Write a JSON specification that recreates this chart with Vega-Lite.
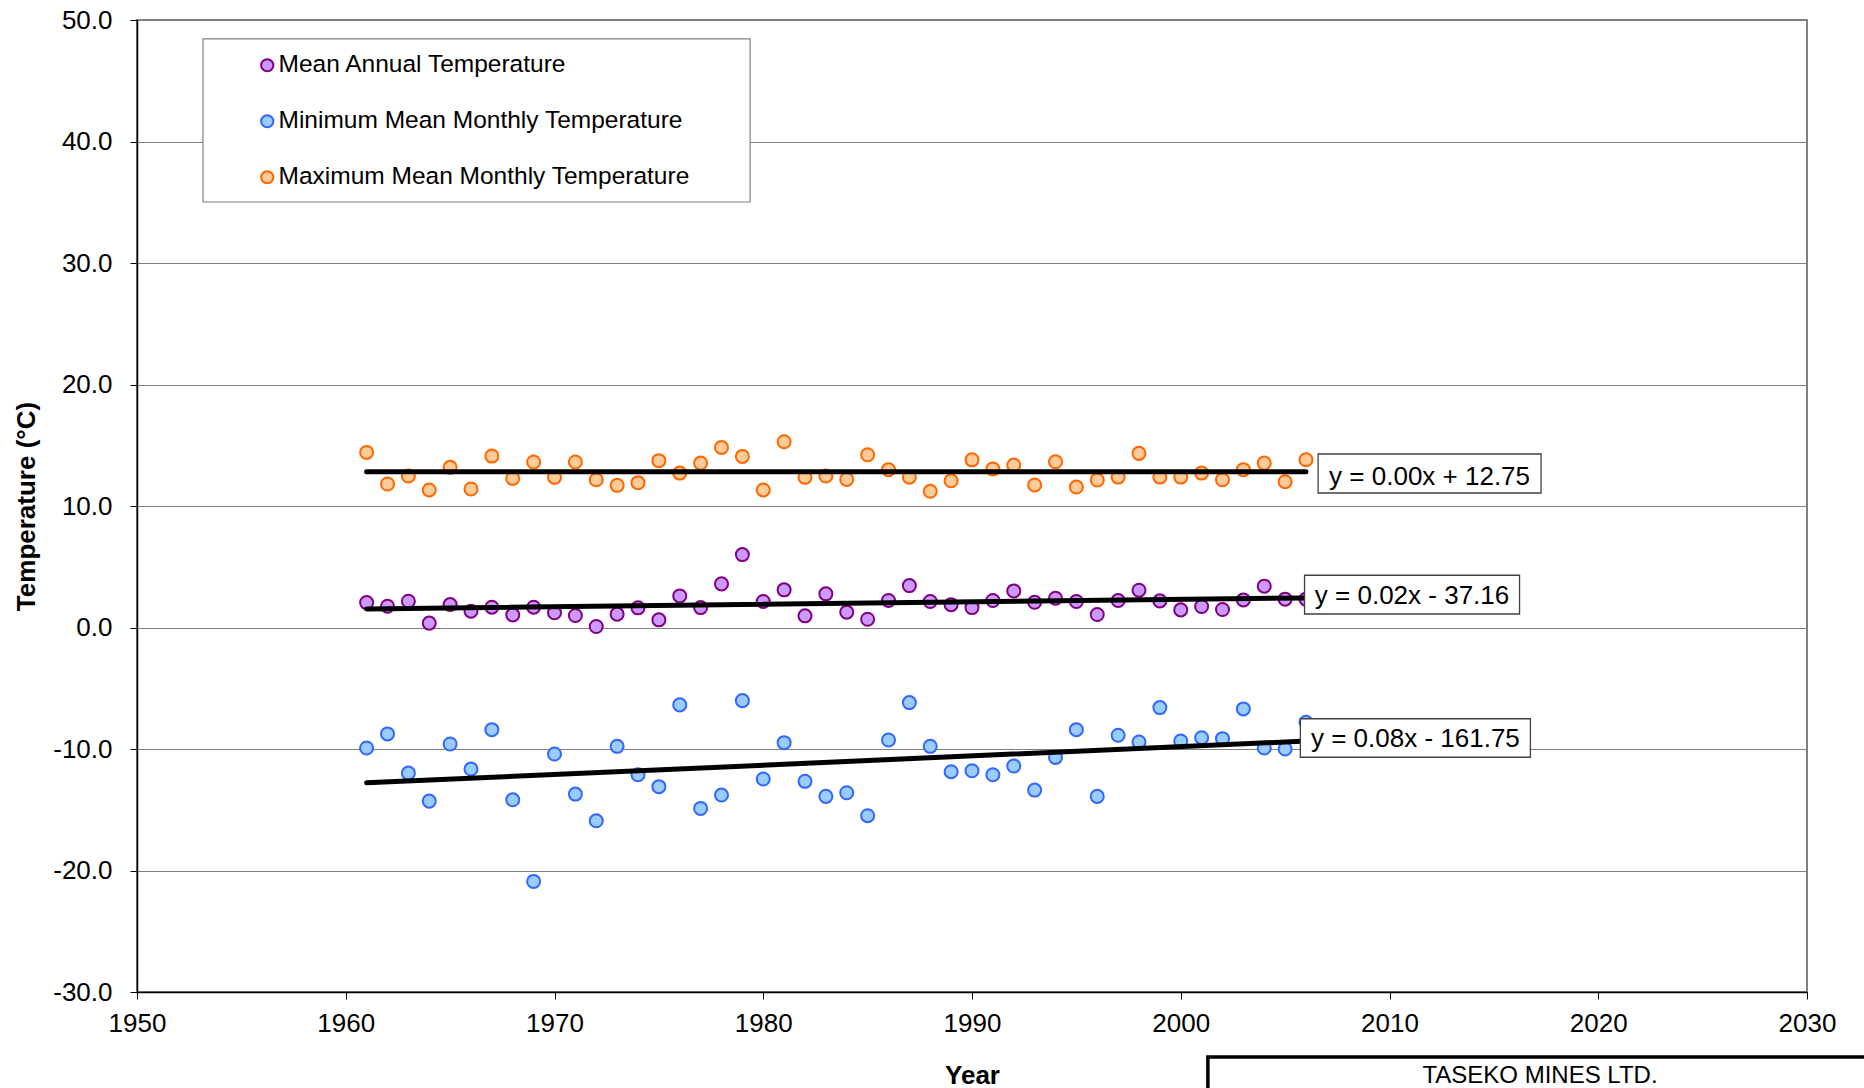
{
  "$schema": "https://vega.github.io/schema/vega-lite/v6.json",
  "width": 1670,
  "height": 972,
  "autosize": {"type": "none"},
  "padding": {"left": 137, "top": 20, "right": 57, "bottom": 96},
  "background": "white",
  "config": {
    "font": "Liberation Sans",
    "view": {"stroke": "#808080", "strokeWidth": 2},
    "axis": {
      "labelFont": "Liberation Sans",
      "titleFont": "Liberation Sans",
      "domainColor": "black",
      "domainWidth": 1.5,
      "tickColor": "black",
      "tickWidth": 1,
      "tickSize": 7,
      "labelColor": "black",
      "titleColor": "black",
      "labelFontSize": 26,
      "titleFontSize": 26,
      "titleFontWeight": "bold"
    },
    "axisX": {"grid": false, "labelPadding": 11, "titlePadding": 26, "labelFlush": false, "labelOverlap": false},
    "axisY": {"grid": true, "gridColor": "#808080", "gridWidth": 1, "labelPadding": 18, "titlePadding": 13, "labelOverlap": false}
  },
  "data": {
    "values": [
      {"year": 1961, "series": "Mean Annual Temperature", "value": 2.05},
      {"year": 1962, "series": "Mean Annual Temperature", "value": 1.75},
      {"year": 1963, "series": "Mean Annual Temperature", "value": 2.16},
      {"year": 1964, "series": "Mean Annual Temperature", "value": 0.36},
      {"year": 1965, "series": "Mean Annual Temperature", "value": 1.89},
      {"year": 1966, "series": "Mean Annual Temperature", "value": 1.34},
      {"year": 1967, "series": "Mean Annual Temperature", "value": 1.67},
      {"year": 1968, "series": "Mean Annual Temperature", "value": 1.04},
      {"year": 1969, "series": "Mean Annual Temperature", "value": 1.67},
      {"year": 1970, "series": "Mean Annual Temperature", "value": 1.21},
      {"year": 1971, "series": "Mean Annual Temperature", "value": 0.99},
      {"year": 1972, "series": "Mean Annual Temperature", "value": 0.08},
      {"year": 1973, "series": "Mean Annual Temperature", "value": 1.10},
      {"year": 1974, "series": "Mean Annual Temperature", "value": 1.62},
      {"year": 1975, "series": "Mean Annual Temperature", "value": 0.63},
      {"year": 1976, "series": "Mean Annual Temperature", "value": 2.60},
      {"year": 1977, "series": "Mean Annual Temperature", "value": 1.64},
      {"year": 1978, "series": "Mean Annual Temperature", "value": 3.59},
      {"year": 1979, "series": "Mean Annual Temperature", "value": 6.00},
      {"year": 1980, "series": "Mean Annual Temperature", "value": 2.14},
      {"year": 1981, "series": "Mean Annual Temperature", "value": 3.10},
      {"year": 1982, "series": "Mean Annual Temperature", "value": 0.96},
      {"year": 1983, "series": "Mean Annual Temperature", "value": 2.77},
      {"year": 1984, "series": "Mean Annual Temperature", "value": 1.26},
      {"year": 1985, "series": "Mean Annual Temperature", "value": 0.68},
      {"year": 1986, "series": "Mean Annual Temperature", "value": 2.22},
      {"year": 1987, "series": "Mean Annual Temperature", "value": 3.45},
      {"year": 1988, "series": "Mean Annual Temperature", "value": 2.14},
      {"year": 1989, "series": "Mean Annual Temperature", "value": 1.88},
      {"year": 1990, "series": "Mean Annual Temperature", "value": 1.64},
      {"year": 1991, "series": "Mean Annual Temperature", "value": 2.22},
      {"year": 1992, "series": "Mean Annual Temperature", "value": 3.01},
      {"year": 1993, "series": "Mean Annual Temperature", "value": 2.08},
      {"year": 1994, "series": "Mean Annual Temperature", "value": 2.41},
      {"year": 1995, "series": "Mean Annual Temperature", "value": 2.14},
      {"year": 1996, "series": "Mean Annual Temperature", "value": 1.07},
      {"year": 1997, "series": "Mean Annual Temperature", "value": 2.22},
      {"year": 1998, "series": "Mean Annual Temperature", "value": 3.07},
      {"year": 1999, "series": "Mean Annual Temperature", "value": 2.19},
      {"year": 2000, "series": "Mean Annual Temperature", "value": 1.45},
      {"year": 2001, "series": "Mean Annual Temperature", "value": 1.73},
      {"year": 2002, "series": "Mean Annual Temperature", "value": 1.48},
      {"year": 2003, "series": "Mean Annual Temperature", "value": 2.27},
      {"year": 2004, "series": "Mean Annual Temperature", "value": 3.40},
      {"year": 2005, "series": "Mean Annual Temperature", "value": 2.33},
      {"year": 2006, "series": "Mean Annual Temperature", "value": 2.33},
      {"year": 1961, "series": "Minimum Mean Monthly Temperature", "value": -9.92},
      {"year": 1962, "series": "Minimum Mean Monthly Temperature", "value": -8.76},
      {"year": 1963, "series": "Minimum Mean Monthly Temperature", "value": -11.98},
      {"year": 1964, "series": "Minimum Mean Monthly Temperature", "value": -14.29},
      {"year": 1965, "series": "Minimum Mean Monthly Temperature", "value": -9.59},
      {"year": 1966, "series": "Minimum Mean Monthly Temperature", "value": -11.65},
      {"year": 1967, "series": "Minimum Mean Monthly Temperature", "value": -8.41},
      {"year": 1968, "series": "Minimum Mean Monthly Temperature", "value": -14.18},
      {"year": 1969, "series": "Minimum Mean Monthly Temperature", "value": -20.9},
      {"year": 1970, "series": "Minimum Mean Monthly Temperature", "value": -10.41},
      {"year": 1971, "series": "Minimum Mean Monthly Temperature", "value": -13.71},
      {"year": 1972, "series": "Minimum Mean Monthly Temperature", "value": -15.91},
      {"year": 1973, "series": "Minimum Mean Monthly Temperature", "value": -9.78},
      {"year": 1974, "series": "Minimum Mean Monthly Temperature", "value": -12.12},
      {"year": 1975, "series": "Minimum Mean Monthly Temperature", "value": -13.10},
      {"year": 1976, "series": "Minimum Mean Monthly Temperature", "value": -6.37},
      {"year": 1977, "series": "Minimum Mean Monthly Temperature", "value": -14.89},
      {"year": 1978, "series": "Minimum Mean Monthly Temperature", "value": -13.79},
      {"year": 1979, "series": "Minimum Mean Monthly Temperature", "value": -6.02},
      {"year": 1980, "series": "Minimum Mean Monthly Temperature", "value": -12.47},
      {"year": 1981, "series": "Minimum Mean Monthly Temperature", "value": -9.48},
      {"year": 1982, "series": "Minimum Mean Monthly Temperature", "value": -12.66},
      {"year": 1983, "series": "Minimum Mean Monthly Temperature", "value": -13.90},
      {"year": 1984, "series": "Minimum Mean Monthly Temperature", "value": -13.60},
      {"year": 1985, "series": "Minimum Mean Monthly Temperature", "value": -15.49},
      {"year": 1986, "series": "Minimum Mean Monthly Temperature", "value": -9.26},
      {"year": 1987, "series": "Minimum Mean Monthly Temperature", "value": -6.18},
      {"year": 1988, "series": "Minimum Mean Monthly Temperature", "value": -9.78},
      {"year": 1989, "series": "Minimum Mean Monthly Temperature", "value": -11.87},
      {"year": 1990, "series": "Minimum Mean Monthly Temperature", "value": -11.79},
      {"year": 1991, "series": "Minimum Mean Monthly Temperature", "value": -12.12},
      {"year": 1992, "series": "Minimum Mean Monthly Temperature", "value": -11.40},
      {"year": 1993, "series": "Minimum Mean Monthly Temperature", "value": -13.38},
      {"year": 1994, "series": "Minimum Mean Monthly Temperature", "value": -10.69},
      {"year": 1995, "series": "Minimum Mean Monthly Temperature", "value": -8.41},
      {"year": 1996, "series": "Minimum Mean Monthly Temperature", "value": -13.90},
      {"year": 1997, "series": "Minimum Mean Monthly Temperature", "value": -8.87},
      {"year": 1998, "series": "Minimum Mean Monthly Temperature", "value": -9.42},
      {"year": 1999, "series": "Minimum Mean Monthly Temperature", "value": -6.59},
      {"year": 2000, "series": "Minimum Mean Monthly Temperature", "value": -9.34},
      {"year": 2001, "series": "Minimum Mean Monthly Temperature", "value": -9.07},
      {"year": 2002, "series": "Minimum Mean Monthly Temperature", "value": -9.15},
      {"year": 2003, "series": "Minimum Mean Monthly Temperature", "value": -6.70},
      {"year": 2004, "series": "Minimum Mean Monthly Temperature", "value": -9.92},
      {"year": 2005, "series": "Minimum Mean Monthly Temperature", "value": -10.00},
      {"year": 2006, "series": "Minimum Mean Monthly Temperature", "value": -7.80},
      {"year": 1961, "series": "Maximum Mean Monthly Temperature", "value": 14.41},
      {"year": 1962, "series": "Maximum Mean Monthly Temperature", "value": 11.81},
      {"year": 1963, "series": "Maximum Mean Monthly Temperature", "value": 12.47},
      {"year": 1964, "series": "Maximum Mean Monthly Temperature", "value": 11.32},
      {"year": 1965, "series": "Maximum Mean Monthly Temperature", "value": 13.18},
      {"year": 1966, "series": "Maximum Mean Monthly Temperature", "value": 11.40},
      {"year": 1967, "series": "Maximum Mean Monthly Temperature", "value": 14.11},
      {"year": 1968, "series": "Maximum Mean Monthly Temperature", "value": 12.27},
      {"year": 1969, "series": "Maximum Mean Monthly Temperature", "value": 13.62},
      {"year": 1970, "series": "Maximum Mean Monthly Temperature", "value": 12.36},
      {"year": 1971, "series": "Maximum Mean Monthly Temperature", "value": 13.62},
      {"year": 1972, "series": "Maximum Mean Monthly Temperature", "value": 12.16},
      {"year": 1973, "series": "Maximum Mean Monthly Temperature", "value": 11.70},
      {"year": 1974, "series": "Maximum Mean Monthly Temperature", "value": 11.92},
      {"year": 1975, "series": "Maximum Mean Monthly Temperature", "value": 13.73},
      {"year": 1976, "series": "Maximum Mean Monthly Temperature", "value": 12.71},
      {"year": 1977, "series": "Maximum Mean Monthly Temperature", "value": 13.53},
      {"year": 1978, "series": "Maximum Mean Monthly Temperature", "value": 14.82},
      {"year": 1979, "series": "Maximum Mean Monthly Temperature", "value": 14.08},
      {"year": 1980, "series": "Maximum Mean Monthly Temperature", "value": 11.32},
      {"year": 1981, "series": "Maximum Mean Monthly Temperature", "value": 15.29},
      {"year": 1982, "series": "Maximum Mean Monthly Temperature", "value": 12.36},
      {"year": 1983, "series": "Maximum Mean Monthly Temperature", "value": 12.47},
      {"year": 1984, "series": "Maximum Mean Monthly Temperature", "value": 12.19},
      {"year": 1985, "series": "Maximum Mean Monthly Temperature", "value": 14.22},
      {"year": 1986, "series": "Maximum Mean Monthly Temperature", "value": 12.99},
      {"year": 1987, "series": "Maximum Mean Monthly Temperature", "value": 12.37},
      {"year": 1988, "series": "Maximum Mean Monthly Temperature", "value": 11.21},
      {"year": 1989, "series": "Maximum Mean Monthly Temperature", "value": 12.08},
      {"year": 1990, "series": "Maximum Mean Monthly Temperature", "value": 13.80},
      {"year": 1991, "series": "Maximum Mean Monthly Temperature", "value": 13.05},
      {"year": 1992, "series": "Maximum Mean Monthly Temperature", "value": 13.37},
      {"year": 1993, "series": "Maximum Mean Monthly Temperature", "value": 11.73},
      {"year": 1994, "series": "Maximum Mean Monthly Temperature", "value": 13.64},
      {"year": 1995, "series": "Maximum Mean Monthly Temperature", "value": 11.56},
      {"year": 1996, "series": "Maximum Mean Monthly Temperature", "value": 12.14},
      {"year": 1997, "series": "Maximum Mean Monthly Temperature", "value": 12.38},
      {"year": 1998, "series": "Maximum Mean Monthly Temperature", "value": 14.33},
      {"year": 1999, "series": "Maximum Mean Monthly Temperature", "value": 12.38},
      {"year": 2000, "series": "Maximum Mean Monthly Temperature", "value": 12.38},
      {"year": 2001, "series": "Maximum Mean Monthly Temperature", "value": 12.71},
      {"year": 2002, "series": "Maximum Mean Monthly Temperature", "value": 12.16},
      {"year": 2003, "series": "Maximum Mean Monthly Temperature", "value": 12.99},
      {"year": 2004, "series": "Maximum Mean Monthly Temperature", "value": 13.53},
      {"year": 2005, "series": "Maximum Mean Monthly Temperature", "value": 12.00},
      {"year": 2006, "series": "Maximum Mean Monthly Temperature", "value": 13.81}
    ]
  },
  "layer": [
    {
      "data": {"values": [{}]},
      "mark": {"type": "rect", "fill": "white", "stroke": "#808080", "strokeWidth": 1.2},
      "encoding": {
        "x": {"datum": 1953.16, "type": "quantitative", "title": "Year", "scale": {"domain": [1950, 2030]}},
        "x2": {"datum": 1979.37},
        "y": {"datum": 48.44, "type": "quantitative", "title": "Temperature (°C)", "scale": {"domain": [-30, 50]}},
        "y2": {"datum": 35.02}
      }
    },
    {
      "mark": {"type": "point", "shape": "circle", "size": 170, "strokeWidth": 2, "opacity": 1, "fillOpacity": 1, "filled": true},
      "encoding": {
        "x": {"field": "year", "type": "quantitative", "title": "Year", "scale": {"domain": [1950, 2030], "nice": false, "zero": false}, "axis": {"values": [1950, 1960, 1970, 1980, 1990, 2000, 2010, 2020, 2030], "format": "d"}},
        "y": {"field": "value", "type": "quantitative", "title": "Temperature (°C)", "scale": {"domain": [-30, 50], "nice": false, "zero": false}, "axis": {"values": [-30, -20, -10, 0, 10, 20, 30, 40, 50], "format": ".1f", "labelExpr": "replace(datum.label, '\u2212', '-')"}},
        "fill": {
          "field": "series", "type": "nominal",
          "scale": {"domain": ["Mean Annual Temperature", "Minimum Mean Monthly Temperature", "Maximum Mean Monthly Temperature"], "range": ["#CC99FF", "#99CCFF", "#FFCC99"]},
          "legend": {
            "orient": "none", "legendX": 66, "legendY": 19, "title": null,
            "padding": 14,
            "labelFontSize": 24.5, "labelColor": "black", "labelFont": "Liberation Sans", "labelLimit": 1000,
            "rowPadding": 31, "symbolOffset": 38, "labelOffset": -1,
            "symbolType": "circle", "symbolSize": 150, "symbolStrokeWidth": 2
          }
        },
        "stroke": {
          "field": "series", "type": "nominal",
          "scale": {"domain": ["Mean Annual Temperature", "Minimum Mean Monthly Temperature", "Maximum Mean Monthly Temperature"], "range": ["#800080", "#3366FF", "#FF6600"]}
        }
      }
    },
    {
      "transform": [{"regression": "value", "on": "year", "groupby": ["series"]}],
      "mark": {"type": "line", "color": "black", "strokeWidth": 5, "strokeCap": "round"},
      "encoding": {
        "x": {"field": "year", "type": "quantitative", "title": "Year", "scale": {"domain": [1950, 2030]}},
        "y": {"field": "value", "type": "quantitative", "title": "Temperature (°C)", "scale": {"domain": [-30, 50]}},
        "detail": {"field": "series", "type": "nominal"}
      }
    },
    {
      "data": {"values": [{}]},
      "mark": {"type": "rect", "fill": "white", "stroke": "#404040", "strokeWidth": 1.3},
      "encoding": {
        "x": {"datum": 2006.58, "type": "quantitative", "title": "Year", "scale": {"domain": [1950, 2030]}},
        "x2": {"datum": 2017.26},
        "y": {"datum": 14.28, "type": "quantitative", "title": "Temperature (°C)", "scale": {"domain": [-30, 50]}},
        "y2": {"datum": 11.07}
      }
    },
    {
      "data": {"values": [{}]},
      "mark": {"type": "text", "text": "y = 0.00x + 12.75", "fontSize": 26, "font": "Liberation Sans", "align": "center", "baseline": "middle", "color": "black"},
      "encoding": {
        "x": {"datum": 2011.92, "type": "quantitative", "title": "Year", "scale": {"domain": [1950, 2030]}},
        "y": {"datum": 12.42, "type": "quantitative", "title": "Temperature (°C)", "scale": {"domain": [-30, 50]}}
      }
    },
    {
      "data": {"values": [{}]},
      "mark": {"type": "rect", "fill": "white", "stroke": "#404040", "strokeWidth": 1.3},
      "encoding": {
        "x": {"datum": 2005.93, "type": "quantitative", "title": "Year", "scale": {"domain": [1950, 2030]}},
        "x2": {"datum": 2016.23},
        "y": {"datum": 4.30, "type": "quantitative", "title": "Temperature (°C)", "scale": {"domain": [-30, 50]}},
        "y2": {"datum": 1.11}
      }
    },
    {
      "data": {"values": [{}]},
      "mark": {"type": "text", "text": "y = 0.02x - 37.16", "fontSize": 26, "font": "Liberation Sans", "align": "center", "baseline": "middle", "color": "black"},
      "encoding": {
        "x": {"datum": 2011.08, "type": "quantitative", "title": "Year", "scale": {"domain": [1950, 2030]}},
        "y": {"datum": 2.60, "type": "quantitative", "title": "Temperature (°C)", "scale": {"domain": [-30, 50]}}
      }
    },
    {
      "data": {"values": [{}]},
      "mark": {"type": "rect", "fill": "white", "stroke": "#404040", "strokeWidth": 1.3},
      "encoding": {
        "x": {"datum": 2005.73, "type": "quantitative", "title": "Year", "scale": {"domain": [1950, 2030]}},
        "x2": {"datum": 2016.75},
        "y": {"datum": -7.51, "type": "quantitative", "title": "Temperature (°C)", "scale": {"domain": [-30, 50]}},
        "y2": {"datum": -10.68}
      }
    },
    {
      "data": {"values": [{}]},
      "mark": {"type": "text", "text": "y = 0.08x - 161.75", "fontSize": 26, "font": "Liberation Sans", "align": "center", "baseline": "middle", "color": "black"},
      "encoding": {
        "x": {"datum": 2011.24, "type": "quantitative", "title": "Year", "scale": {"domain": [1950, 2030]}},
        "y": {"datum": -9.2, "type": "quantitative", "title": "Temperature (°C)", "scale": {"domain": [-30, 50]}}
      }
    },
    {
      "data": {"values": [{}]},
      "mark": {"type": "rect", "fill": "white", "stroke": "black", "strokeWidth": 3.5},
      "encoding": {
        "x": {"datum": 2001.3, "type": "quantitative", "title": "Year", "scale": {"domain": [1950, 2030]}},
        "x2": {"datum": 2050},
        "y": {"datum": -35.35, "type": "quantitative", "title": "Temperature (°C)", "scale": {"domain": [-30, 50]}},
        "y2": {"datum": -45}
      }
    },
    {
      "data": {"values": [{}]},
      "mark": {"type": "text", "text": "TASEKO MINES LTD.", "fontSize": 24, "font": "Liberation Sans", "align": "center", "baseline": "middle", "color": "black"},
      "encoding": {
        "x": {"datum": 2017.21, "type": "quantitative", "title": "Year", "scale": {"domain": [1950, 2030]}},
        "y": {"datum": -36.92, "type": "quantitative", "title": "Temperature (°C)", "scale": {"domain": [-30, 50]}}
      }
    }
  ]
}
